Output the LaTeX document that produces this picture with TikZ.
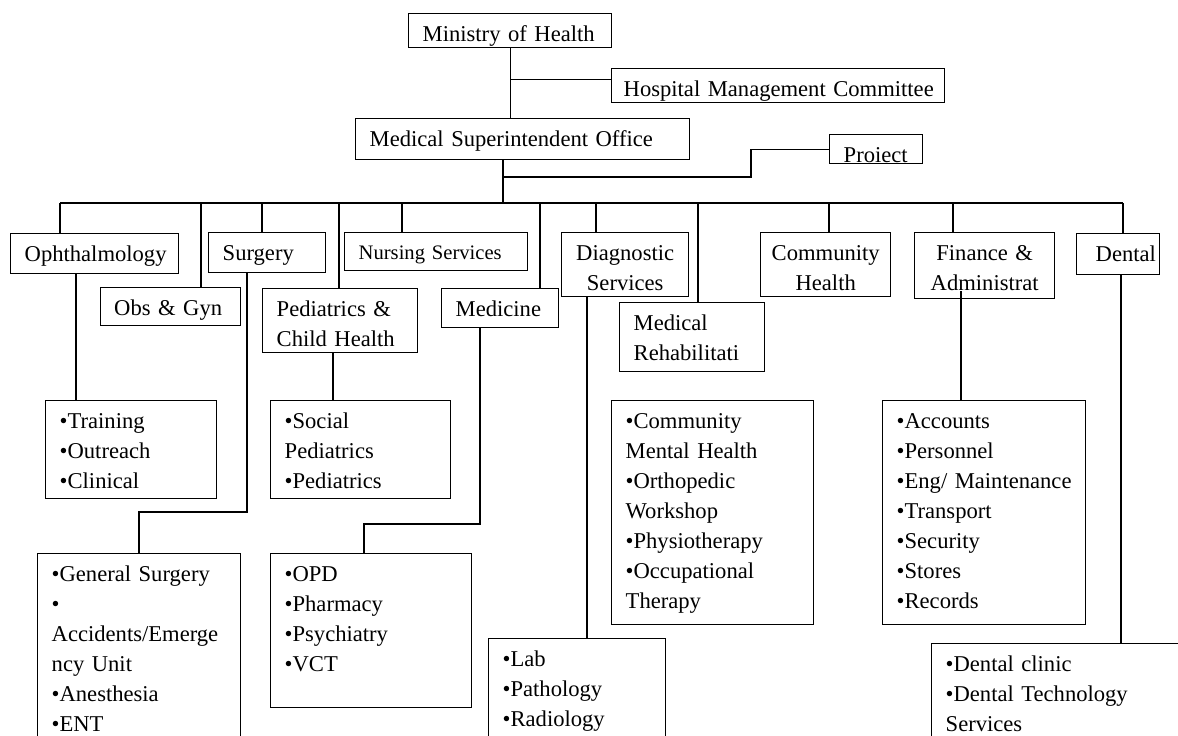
\documentclass[tikz,border=0pt]{standalone}
\usepackage{fontspec}
\setmainfont{Liberation Serif}
\usepackage{tikz}
\usetikzlibrary{calc}

\begin{document}
\begin{tikzpicture}[
		x=0.5pt, y=-0.5pt,
		font=\fontsize{11.3}{15}\selectfont,
		unitbox/.style={draw, line width=0.7pt, anchor=north west, align=left,
			inner xsep=7pt, inner ysep=2pt, text height=12pt,
			execute at begin node={\hyphenpenalty=10000\exhyphenpenalty=10000}},
		midbox/.style={unitbox, align=center, inner xsep=4pt},
		link/.style={line width=0.7pt},
	]
		\useasboundingbox (0,0) rectangle (1178,735);
		\clip (0,0) rectangle (1178,735);

		%Nodes
		\node (moh) [unitbox, text width=87.5pt, text depth=1pt] at (408,13) {Ministry of Health};
		\node (hmc) [unitbox, inner xsep=6pt, text width=154.5pt, text depth=1pt] at (611,68) {Hospital~Management~Committee};
		\node (mso) [unitbox, text width=153pt, text depth=4.5pt] at (355,118) {Medical Superintendent Office};
		\node (proj) [
			unitbox,
			inner ysep=0.75pt,
			text height=13pt,
			text depth=0pt,
			text width=32.5pt
			] at (829,134) {Proiect};

		% departments
		\node (oph) [unitbox, text width=70pt, text depth=4pt] at (10,233) {Ophthalmology};
		\node (sur) [unitbox, text width=44.5pt, text depth=4pt] at (208,232) {Surgery};
		\node (nur) [
			unitbox,
			font=\fontsize{10.3}{13}\selectfont,
			text width=77.5pt,
			text height=11.5pt,
			text depth=3.5pt
			] at (344,232) {Nursing Services};
		\node (dia) [midbox, text width=55.5pt, text depth=16pt] at (561,232) {Diagnostic\\Services};
		\node (com) [midbox, text width=57pt, text depth=16pt] at (760,232) {Community\\Health};
		\node (fin) [midbox, text width=62pt, text depth=17pt] at (914,232) {Finance \&\\Administrat};
		\node (den) [unitbox, inner xsep=9.5pt, text width=22.5pt, text depth=4.5pt] at (1076,233) {Dental};

		\node (obs) [unitbox, text width=56.25pt, text depth=3pt] at (99.5,287) {Obs \&~Gyn};
		\node (ped) [unitbox, text width=63.5pt, text depth=16pt] at (262,288) {Pediatrics \&\\Child Health};
		\node (med) [unitbox, text width=44.5pt, text depth=3.5pt] at (441,288) {Medicine};
		\node (reh) [unitbox, text width=58.5pt, text depth=18.5pt] at (619,302) {Medical\\Rehabilitati};

		% sections
		\node (ophlist) [unitbox, text width=71.5pt, text depth=33pt] at (45,400)
			{•Training\\•Outreach\\•Clinical};
		\node (pedlist) [unitbox, text width=76pt, text depth=33pt] at (270,400)
			{•Social\\Pediatrics\\•Pediatrics};
		\node (rehlist) [unitbox, text width=87pt, text depth=96pt] at (611,400)
			{•Community\\Mental Health\\•Orthopedic\\Workshop\\•Physiotherapy\\•Occupational\\Therapy};
		\node (finlist) [unitbox, text width=87.5pt, text depth=96pt] at (882,400)
			{•Accounts\\•Personnel\\•Eng/~Maintenance\\•Transport\\•Security\\•Stores\\•Records};
		\node (surlist) [unitbox, text width=87.5pt, text depth=80pt] at (37,553)
			{•General Surgery\\•\\Accidents/Emerge\\ncy~Unit\\•Anesthesia\\•ENT};
		\node (medlist) [unitbox, text width=86.5pt, text depth=61pt] at (270,553)
			{•OPD\\•Pharmacy\\•Psychiatry\\•VCT};
		\node (dialist) [unitbox, text width=74.5pt, text depth=35pt] at (488,638)
			{•Lab\\•Pathology\\•Radiology};
		\node (denlist) [unitbox, text width=116pt, text depth=35pt] at (931,643)
			{•Dental clinic\\•Dental Technology\\Services};

		%Lines
		\coordinate (hmcjoin) at ([yshift=3pt]hmc.west);
		\coordinate (bus) at (503,203);
		\coordinate (projbend) at (751,177);
		\coordinate (surbend) at (139,512);
		\coordinate (medbend) at (364,524);
		\coordinate (finstart) at ([yshift=4pt]fin.south -| 961,0);

		\draw[link] (moh.south) -- (moh.south |- mso.north);
		\draw[link] (moh.south |- hmcjoin) -- (hmcjoin);
		\draw[link] (mso.south -| bus) -- (bus);
		\draw[link] (bus |- projbend) -- (projbend) |- (proj.west);
		\draw[link] (60,0 |- bus) -- (1123,0 |- bus);

		\foreach \x/\unit in {60/oph, 201/obs, 262/sur, 339/ped, 402/nur, 540/med,
				596/dia, 698/reh, 829/com, 953/fin, 1123/den}
			\draw[link] (\x,0 |- bus) -- (\x,0 |- \unit.north);

		\draw[link] (76,0 |- oph.south) -- (76,0 |- ophlist.north);
		\draw[link] (247,0 |- sur.south) |- (surbend) -- (surbend |- surlist.north);
		\draw[link] (333,0 |- ped.south) -- (333,0 |- pedlist.north);
		\draw[link] (480,0 |- med.south) |- (medbend) -- (medbend |- medlist.north);
		\draw[link] (587,0 |- dia.south) -- (587,0 |- dialist.north);
		\draw[link] (finstart) -- (finstart |- finlist.north);
		\draw[link] (1121,0 |- den.south) -- (1121,0 |- denlist.north);
	\end{tikzpicture}
\end{document}
